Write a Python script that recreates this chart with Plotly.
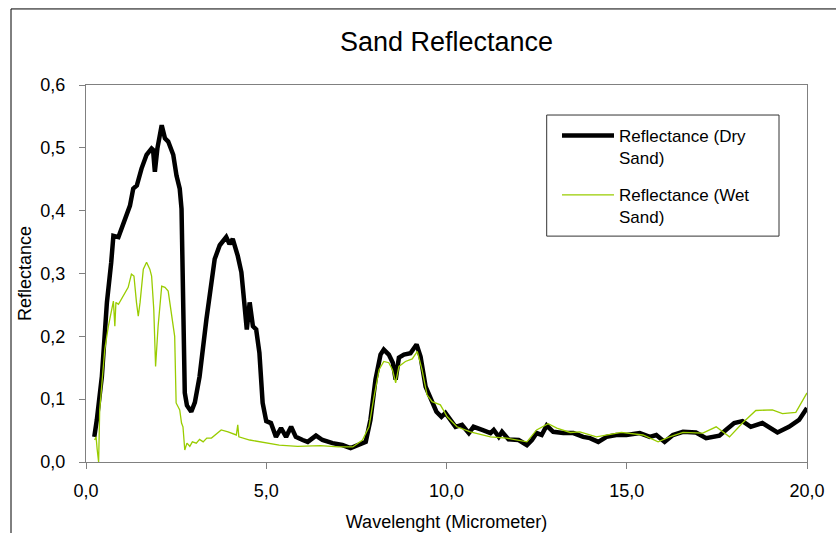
import plotly.graph_objects as go

# Dry sand reflectance (wavelength in micrometers)
dry_wl = [0.23, 0.30, 0.44, 0.58, 0.70, 0.76, 0.90, 1.04, 1.22, 1.31, 1.41, 1.54, 1.68, 1.82, 1.86,
          1.91, 1.98, 2.10, 2.19, 2.28, 2.42, 2.51, 2.60, 2.65, 2.70, 2.74, 2.80, 2.92, 3.02, 3.15,
          3.34, 3.57, 3.71, 3.89, 3.98, 4.07, 4.21, 4.31, 4.40, 4.46, 4.54, 4.63, 4.72, 4.81, 4.90,
          5.00, 5.13, 5.27, 5.41, 5.55, 5.69, 5.82, 6.01, 6.15, 6.38, 6.56, 6.84, 7.11, 7.34, 7.57,
          7.76, 7.89, 8.03, 8.17, 8.26, 8.40, 8.51, 8.59, 8.68, 8.82, 9.00, 9.17, 9.28, 9.42, 9.52,
          9.72, 9.86, 9.97, 10.25, 10.43, 10.62, 10.75, 10.99, 11.22, 11.31, 11.45, 11.54, 11.72,
          12.00, 12.23, 12.37, 12.50, 12.64, 12.78, 12.96, 13.24, 13.52, 13.79, 13.98, 14.21, 14.44,
          14.71, 14.99, 15.36, 15.64, 15.82, 16.05, 16.28, 16.56, 16.92, 17.20, 17.57, 17.75, 17.98,
          18.21, 18.44, 18.76, 18.95, 19.18, 19.50, 19.78, 20.00]
dry_refl = [0.040, 0.067, 0.136, 0.254, 0.318, 0.360, 0.358, 0.382, 0.408, 0.435, 0.440, 0.467, 0.489,
            0.499, 0.497, 0.462, 0.499, 0.536, 0.515, 0.510, 0.489, 0.456, 0.435, 0.403, 0.250, 0.110,
            0.090, 0.080, 0.095, 0.136, 0.227, 0.323, 0.345, 0.358, 0.347, 0.355, 0.328, 0.302, 0.248,
            0.211, 0.254, 0.216, 0.211, 0.174, 0.094, 0.065, 0.062, 0.040, 0.054, 0.040, 0.056, 0.040,
            0.035, 0.032, 0.042, 0.035, 0.030, 0.027, 0.022, 0.027, 0.032, 0.067, 0.131, 0.171, 0.179,
            0.171, 0.158, 0.131, 0.166, 0.171, 0.173, 0.187, 0.168, 0.120, 0.105, 0.080, 0.072, 0.078,
            0.056, 0.059, 0.046, 0.056, 0.051, 0.046, 0.051, 0.040, 0.048, 0.036, 0.035, 0.027, 0.035,
            0.046, 0.043, 0.058, 0.048, 0.046, 0.046, 0.040, 0.038, 0.032, 0.040, 0.043, 0.043, 0.046,
            0.040, 0.043, 0.032, 0.043, 0.048, 0.047, 0.038, 0.042, 0.051, 0.062, 0.065, 0.056, 0.062,
            0.056, 0.047, 0.056, 0.067, 0.086]

# Wet sand reflectance
wet_wl = [0.24, 0.28, 0.31, 0.33, 0.35, 0.38, 0.52, 0.62, 0.76, 0.80, 0.83, 0.90, 1.04, 1.17, 1.26,
          1.33, 1.40, 1.45, 1.50, 1.59, 1.68, 1.77, 1.82, 1.88, 1.93, 2.00, 2.10, 2.19, 2.28, 2.37,
          2.46, 2.50, 2.60, 2.65, 2.69, 2.74, 2.80, 2.88, 2.95, 3.06, 3.15, 3.25, 3.35, 3.48, 3.62,
          3.75, 3.94, 4.10, 4.17, 4.21, 4.24, 4.54, 4.90, 5.36, 5.87, 6.50, 7.00, 7.40, 7.67, 7.85,
          7.99, 8.13, 8.26, 8.40, 8.50, 8.59, 8.68, 8.86, 9.05, 9.19, 9.32, 9.46, 9.60, 9.83, 10.02,
          10.29, 10.66, 11.22, 11.67, 12.23, 12.50, 12.82, 13.06, 13.43, 13.70, 14.16, 14.85, 15.45,
          15.87, 16.19, 16.56, 17.11, 17.48, 17.85, 18.21, 18.58, 19.04, 19.32, 19.69, 20.00]
wet_refl = [0.035, 0.040, 0.020, 0.000, 0.000, 0.083, 0.179, 0.216, 0.256, 0.216, 0.254, 0.251, 0.264,
            0.278, 0.299, 0.296, 0.254, 0.232, 0.254, 0.307, 0.318, 0.307, 0.296, 0.243, 0.152, 0.216,
            0.280, 0.278, 0.272, 0.238, 0.200, 0.094, 0.083, 0.062, 0.056, 0.019, 0.030, 0.025, 0.032,
            0.030, 0.036, 0.032, 0.038, 0.038, 0.045, 0.051, 0.048, 0.045, 0.043, 0.059, 0.040, 0.035,
            0.032, 0.027, 0.025, 0.026, 0.024, 0.024, 0.035, 0.056, 0.104, 0.147, 0.160, 0.158, 0.147,
            0.126, 0.152, 0.160, 0.164, 0.176, 0.147, 0.107, 0.096, 0.091, 0.072, 0.056, 0.048, 0.040,
            0.038, 0.032, 0.051, 0.061, 0.054, 0.047, 0.048, 0.040, 0.047, 0.043, 0.032, 0.040, 0.047,
            0.046, 0.056, 0.040, 0.062, 0.082, 0.083, 0.077, 0.079, 0.110]

x_ticks = [0, 5, 10, 15, 20]
y_ticks = [0, 0.1, 0.2, 0.3, 0.4, 0.5, 0.6]

FONT = "Liberation Sans, Arial, sans-serif"

fig = go.Figure()
fig.add_trace(go.Scatter(x=dry_wl, y=dry_refl, mode="lines", name="Reflectance (Dry<br>Sand)",
                         line=dict(color="black", width=4.5), legendgroup="a"))
fig.add_trace(go.Scatter(x=wet_wl, y=wet_refl, mode="lines", name="Reflectance (Wet<br>Sand)",
                         line=dict(color="#99cc00", width=1.3), legendgroup="b"))

axis_common = dict(showgrid=False, zeroline=False, showline=True, linecolor="#808080", linewidth=1,
                   mirror=True, ticks="outside", ticklen=6, tickcolor="#808080", automargin=False,
                   tickfont=dict(family=FONT, size=18, color="black"), tickformat=".1f")

fig.update_layout(
    width=836, height=533,
    margin=dict(l=86, r=29, t=85, b=71),
    paper_bgcolor="white", plot_bgcolor="white",
    separators=",.",
    font=dict(family=FONT, color="black"),
    title=dict(text="Sand Reflectance", x=0.5, xref="paper", xanchor="center",
               y=1 - 42 / 533, yanchor="middle", font=dict(family=FONT, size=27, color="black")),
    xaxis=dict(range=[0, 20], tickvals=x_ticks, ticklabelstandoff=6,
               title=dict(text="Wavelenght (Micrometer)", font=dict(family=FONT, size=18), standoff=15),
               **axis_common),
    yaxis=dict(range=[0, 0.6], tickvals=y_ticks, ticklabelstandoff=10,
               title=dict(text="Reflectance", font=dict(family=FONT, size=18), standoff=4),
               **axis_common),
    legend=dict(x=(557 - 86) / 721, y=(461.7 - 118) / 376.7, xanchor="left", yanchor="top",
                bgcolor="rgba(0,0,0,0)", borderwidth=0, valign="top",
                font=dict(family=FONT, size=17, color="black"),
                traceorder="grouped", tracegroupgap=12, itemwidth=52),
    showlegend=True,
)

# legend frame and outer chart border
fig.add_shape(type="rect", xref="paper", yref="paper",
              x0=(546.7 - 86) / 721, x1=(779 - 86) / 721,
              y0=(461.7 - 236) / 376.7, y1=(461.7 - 115) / 376.7,
              line=dict(color="#333333", width=1), fillcolor="rgba(0,0,0,0)")
fig.add_shape(type="rect", xref="paper", yref="paper",
              x0=(11 - 86) / 721, x1=(900 - 86) / 721,
              y0=(461.7 - 600) / 376.7, y1=(461.7 - 9) / 376.7,
              line=dict(color="black", width=1), fillcolor="rgba(0,0,0,0)")

fig.write_html("out.html")
